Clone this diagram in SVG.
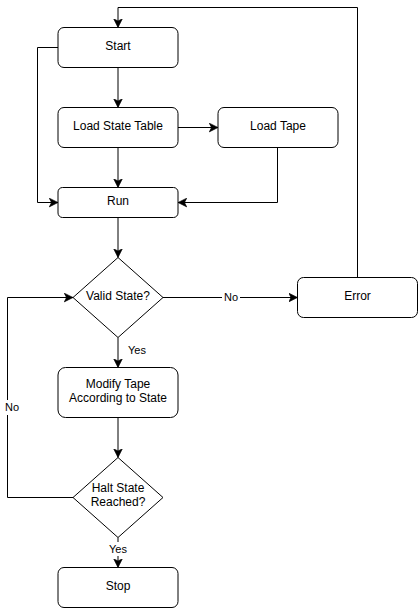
<svg xmlns="http://www.w3.org/2000/svg" width="418" height="608" viewBox="0 0 418 608">
<style>
.node{fill:#fff;stroke:#000;stroke-width:1}
.t{font-family:"Liberation Sans",Arial,sans-serif;font-size:12px;fill:#000;text-anchor:middle;dominant-baseline:central}
.lbl{font-family:"Liberation Sans",Arial,sans-serif;font-size:11px;fill:#000;text-anchor:middle;dominant-baseline:central}
.e{fill:none;stroke:#000;stroke-width:1}
</style>
<defs>
<marker id="arr" markerUnits="userSpaceOnUse" markerWidth="10" markerHeight="10" viewBox="0 0 8 8" refX="7" refY="4" orient="auto">
<path d="M0,0.5 L7,4 L0,7.5 L1.8,4 Z" fill="#000" stroke="#000" stroke-width="0.5"/>
</marker>
</defs>
<rect width="418" height="608" fill="#fff"/>
<g id="connectors">
<path class="e" d="M357.5,277.5 V7.5 H118 V27.5" marker-end="url(#arr)"/>
<path class="e" d="M118,67.5 V107.5" marker-end="url(#arr)"/>
<path class="e" d="M58,47.5 H37.5 V202.5 H58" marker-end="url(#arr)"/>
<path class="e" d="M178,127.5 H218" marker-end="url(#arr)"/>
<path class="e" d="M118,147.5 V187.5" marker-end="url(#arr)"/>
<path class="e" d="M277.5,147.5 V202.5 H178" marker-end="url(#arr)"/>
<path class="e" d="M118,217.5 V257.5" marker-end="url(#arr)"/>
<path class="e" d="M163,297.5 H297.5" marker-end="url(#arr)"/>
<path class="e" d="M118,337.5 V367.5" marker-end="url(#arr)"/>
<path class="e" d="M118,417.5 V457.5" marker-end="url(#arr)"/>
<path class="e" d="M73,497.5 H7.5 V297.5 H73" marker-end="url(#arr)"/>
<path class="e" d="M118,537.5 V567.5" marker-end="url(#arr)"/>
<rect x="222" y="290" width="18" height="14" fill="#fff"/>
<text class="lbl" x="231" y="297">No</text>
<text class="lbl" x="137" y="349.5">Yes</text>
<rect x="3" y="400" width="18" height="15" fill="#fff"/>
<text class="lbl" x="12" y="407">No</text>
<rect x="108" y="542" width="20" height="14" fill="#fff"/>
<text class="lbl" x="118" y="548.5">Yes</text>
</g>
<g id="start"><rect class="node" x="58" y="27.5" width="120" height="40" rx="6"/><text class="t" x="118" y="46">Start</text></g>
<g id="loadStateTable"><rect class="node" x="58" y="107.5" width="120" height="40" rx="6"/><text class="t" x="118" y="126">Load State Table</text></g>
<g id="loadTape"><rect class="node" x="218" y="107.5" width="120" height="40" rx="6"/><text class="t" x="278" y="126">Load Tape</text></g>
<g id="run"><rect class="node" x="58" y="187.5" width="120" height="30" rx="4.5"/><text class="t" x="118" y="201">Run</text></g>
<g id="validState"><path class="node" d="M118,257.5 L163,297.5 L118,337.5 L73,297.5 Z"/><text class="t" x="118" y="296">Valid State?</text></g>
<g id="error"><rect class="node" x="297.5" y="277.5" width="120" height="40" rx="6"/><text class="t" x="357.5" y="296">Error</text></g>
<g id="modifyTape"><rect class="node" x="58" y="367.5" width="120" height="50" rx="7.5"/><text class="t" x="118" y="384">Modify Tape</text><text class="t" x="118" y="398">According to State</text></g>
<g id="halt"><path class="node" d="M118,457.5 L163,497.5 L118,537.5 L73,497.5 Z"/><text class="t" x="118" y="488">Halt State</text><text class="t" x="118" y="502">Reached?</text></g>
<g id="stop"><rect class="node" x="58" y="567.5" width="120" height="40" rx="6"/><text class="t" x="118" y="586">Stop</text></g>
</svg>
